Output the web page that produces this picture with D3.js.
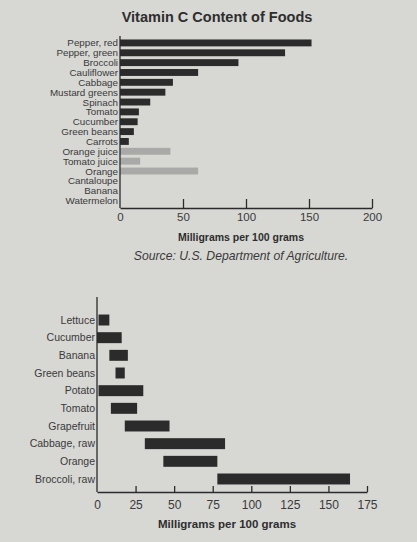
<!DOCTYPE html>
<html><head><meta charset="utf-8">
<script src="https://cdn.jsdelivr.net/npm/d3@7"></script>
<style>
html,body{margin:0;padding:0;background:#d7d7d4;}
svg{display:block;}
text{font-family:"Liberation Sans",Arial,sans-serif;fill:#2e2e2e;}
</style></head>
<body>
<script>
// Top chart data
const foods = ["Pepper, red","Pepper, green","Broccoli","Cauliflower","Cabbage","Mustard greens","Spinach","Tomato","Cucumber","Green beans","Carrots","Orange juice","Tomato juice","Orange","Cantaloupe","Banana","Watermelon"];
const vitC = [152,131,94,62,42,36,24,15,14,11,7,40,16,62,0,0,0];
const grayFoods = ["Orange juice","Tomato juice","Orange","Cantaloupe","Banana","Watermelon"];
const topTicks = [50,100,150,200];

// Bottom chart data (ranges)
const rangeFoods = ["Lettuce","Cucumber","Banana","Green beans","Potato","Tomato","Grapefruit","Cabbage, raw","Orange","Broccoli, raw"];
const rangeLow  = [1,0,8,12,1,9,18,31,43,78];
const rangeHigh = [8,16,20,18,30,26,47,83,78,164];
const bottomTicks = [0,25,50,75,100,125,150,175];

const W = 417, H = 542;
const svg = d3.select("body").append("svg").attr("width", W).attr("height", H);
const ink = "#2b2b2b";

// ---------- Top chart ----------
svg.append("text").attr("x", 217).attr("y", 22).attr("text-anchor","middle")
  .style("font-size","14.5px").style("font-weight","bold").text("Vitamin C Content of Foods");

const x1 = d3.scaleLinear().domain([0,200]).range([120,372]);
const y1 = d3.scaleBand().domain(foods).range([37.5,206]).paddingInner(0.3).paddingOuter(0.2);
const g1 = svg.append("g");
g1.selectAll("rect").data(foods).join("rect")
  .attr("x", x1(0)).attr("y", d => y1(d))
  .attr("width", (d,i) => x1(vitC[i]) - x1(0))
  .attr("height", y1.bandwidth())
  .attr("fill", d => grayFoods.includes(d) ? "#a9a9a7" : ink);
g1.selectAll("text.lab").data(foods).join("text").attr("class","lab")
  .attr("x", x1(0) - 2).attr("y", d => y1(d) + y1.bandwidth()/2).attr("dy","0.36em")
  .attr("text-anchor","end").style("font-size","9.8px").style("fill","#3a3a3a").text(d => d);
g1.append("line").attr("x1", x1(0)).attr("x2", x1(0)).attr("y1", 36).attr("y2", 208)
  .attr("stroke", ink).attr("stroke-width", 1.3);
const ax1 = g1.append("g").attr("transform","translate(0,208)")
  .call(d3.axisBottom(x1).tickValues([0].concat(topTicks)).tickSize(-9).tickSizeOuter(0).tickPadding(5));
ax1.select(".domain").attr("stroke", ink).attr("stroke-width", 1.3);
ax1.selectAll(".tick line").attr("stroke", ink).attr("stroke-width", 1.3).filter(d => d === 0).remove();
ax1.selectAll(".tick text").style("font-size","11.5px").style("fill","#3a3a3a").attr("font-family",null);
svg.append("text").attr("x", 241).attr("y", 241).attr("text-anchor","middle")
  .style("font-size","10.5px").style("font-weight","bold").text("Milligrams per 100 grams");
svg.append("text").attr("x", 241).attr("y", 260).attr("text-anchor","middle")
  .style("font-size","12.2px").style("font-style","italic").style("fill","#3a3a3a").text("Source: U.S. Department of Agriculture.");

// ---------- Bottom chart ----------
const x2 = d3.scaleLinear().domain([0,175]).range([97,367]);
const y2 = d3.scaleBand().domain(rangeFoods).range([311,488]).paddingInner(0.38).paddingOuter(0.2);
const g2 = svg.append("g");
g2.selectAll("rect").data(rangeFoods).join("rect")
  .attr("x", (d,i) => x2(rangeLow[i])).attr("y", d => y2(d))
  .attr("width", (d,i) => x2(rangeHigh[i]) - x2(rangeLow[i]))
  .attr("height", y2.bandwidth()).attr("fill", ink);
g2.selectAll("text.lab").data(rangeFoods).join("text").attr("class","lab")
  .attr("x", x2(0) - 2).attr("y", d => y2(d) + y2.bandwidth()/2).attr("dy","0.36em")
  .attr("text-anchor","end").style("font-size","10.5px").style("fill","#3a3a3a").text(d => d);
g2.append("line").attr("x1", x2(0)).attr("x2", x2(0)).attr("y1", 297).attr("y2", 492)
  .attr("stroke", ink).attr("stroke-width", 1.3);
const ax2 = g2.append("g").attr("transform","translate(0,492)")
  .call(d3.axisBottom(x2).tickValues(bottomTicks).tickSize(-6).tickSizeOuter(0).tickPadding(8));
ax2.select(".domain").attr("stroke", ink).attr("stroke-width", 1.3);
ax2.selectAll(".tick line").attr("stroke", ink).attr("stroke-width", 1.3).filter(d => d === 0).remove();
ax2.selectAll(".tick text").style("font-size","12px").style("fill","#3a3a3a").attr("font-family",null);
svg.append("text").attr("x", 227).attr("y", 528).attr("text-anchor","middle")
  .style("font-size","11.5px").style("font-weight","bold").text("Milligrams per 100 grams");
</script>
</body></html>
